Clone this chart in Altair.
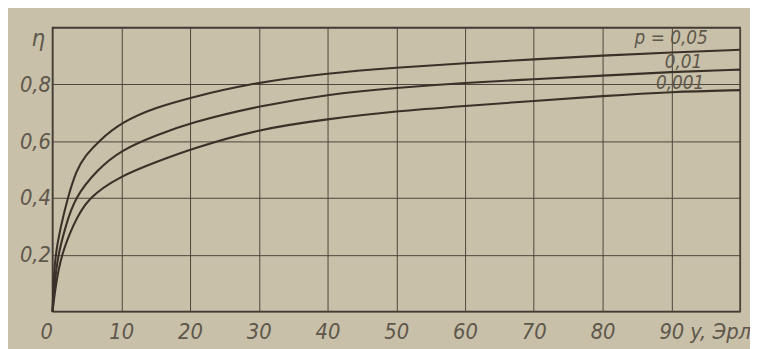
import altair as alt
import pandas as pd

# Curves: utilisation eta vs traffic y (Erl) for loss probabilities p
p05_x = [0, 0.15, 0.4, 1.2, 2.2, 3.5, 4.8, 6.7, 10, 15, 20, 27.9, 40, 50, 60, 70, 80, 90, 100]
p05_y = [0, 0.1, 0.2, 0.3, 0.4, 0.5, 0.55, 0.6, 0.667, 0.719, 0.753, 0.8, 0.840, 0.859, 0.875, 0.888, 0.902, 0.913, 0.922]

p01_x = [0, 0.3, 0.8, 1.9, 3.2, 6.5, 10, 15, 20, 30, 40, 50, 60, 70, 80, 90, 100]
p01_y = [0, 0.1, 0.2, 0.3, 0.4, 0.5, 0.569, 0.62, 0.665, 0.724, 0.765, 0.788, 0.806, 0.818, 0.831, 0.844, 0.852]

p001_x = [0, 0.5, 1.3, 2.9, 5.0, 10, 15, 20, 30, 40, 50, 60, 70, 80, 90, 100]
p001_y = [0, 0.1, 0.2, 0.3, 0.4, 0.479, 0.526, 0.572, 0.643, 0.678, 0.706, 0.724, 0.742, 0.759, 0.774, 0.780]

series_names = ["0,05", "0,01", "0,001"]
label_texts = ["p = 0,05", "0,01", "0,001"]
label_x = [95.3, 94.5, 94.8]
label_y = [0.965, 0.878, 0.806]

x_ticks = [0, 10, 20, 30, 40, 50, 60, 70, 80, 90, 100]
y_ticks = [0, 0.2, 0.4, 0.6, 0.8, 1.0]

rows = []
for name, xs, ys in zip(series_names, [p05_x, p01_x, p001_x], [p05_y, p01_y, p001_y]):
    for xv, yv in zip(xs, ys):
        rows.append({"p": name, "traffic": xv, "eta": yv})
df = pd.DataFrame(rows)

labels = pd.DataFrame({"traffic": label_x, "eta": label_y, "text": label_texts})

FONT = "Liberation Sans Narrow, DejaVu Sans Condensed, sans-serif"
INK = "#3a3129"
TXT = "#5e574c"

x_scale = alt.Scale(domain=[0, 100], nice=False)
y_scale = alt.Scale(domain=[0, 1], nice=False)

x_axis = alt.Axis(
    values=x_ticks,
    labelExpr="datum.value == 100 ? '' : datum.label",
    labelAlign={"condition": {"test": "datum.value === 0", "value": "right"}, "value": "center"},
    labelBaseline="top",
    labelPadding=10,
    title="y, Эрл",
    titleX=644,
    titleY=10,
    titleAlign="left",
    titleBaseline="top",
    titleFontSize=22,
    titleFontStyle="italic",
    titleFontWeight="normal",
    titleFont=FONT,
    titleColor=TXT,
)

y_axis = alt.Axis(
    values=y_ticks,
    labelExpr="(datum.value == 0 || datum.value == 1) ? '' : replace(format(datum.value, '.1f'), '.', ',')",
    labelPadding=2,
    labelBaseline="middle",
    title="η",
    titleAngle=0,
    titleX=-15,
    titleY=11,
    titleAlign="center",
    titleBaseline="middle",
    titleFontSize=24,
    titleFontStyle="italic",
    titleFontWeight="normal",
    titleFont=FONT,
    titleColor=TXT,
)

lines = alt.Chart(df).mark_line(
    interpolate="basis", strokeWidth=2.1, color=INK
).encode(
    x=alt.X("traffic:Q", scale=x_scale, axis=x_axis),
    y=alt.Y("eta:Q", scale=y_scale, axis=y_axis),
    detail="p:N",
)

texts = alt.Chart(labels).mark_text(
    align="right", baseline="middle", font=FONT, fontStyle="italic",
    fontSize=19, color=TXT
).encode(
    x=alt.X("traffic:Q", scale=x_scale),
    y=alt.Y("eta:Q", scale=y_scale),
    text="text:N",
)

chart = alt.layer(lines, texts).properties(
    width=695,
    height=287,
    background="#c8c0a8",
    padding={"left": 45, "top": 18, "right": 10, "bottom": 36},
    autosize=alt.AutoSizeParams(type="none"),
).configure_view(
    stroke="#3e372f", strokeWidth=1.6
).configure_axis(
    grid=True,
    gridColor="#4d453c",
    gridWidth=1,
    domain=False,
    ticks=False,
    labelFont=FONT,
    labelFontSize=22,
    labelFontStyle="italic",
    labelColor=TXT,
)

chart.save("out.html", embed_options={"renderer": "svg", "actions": False})
